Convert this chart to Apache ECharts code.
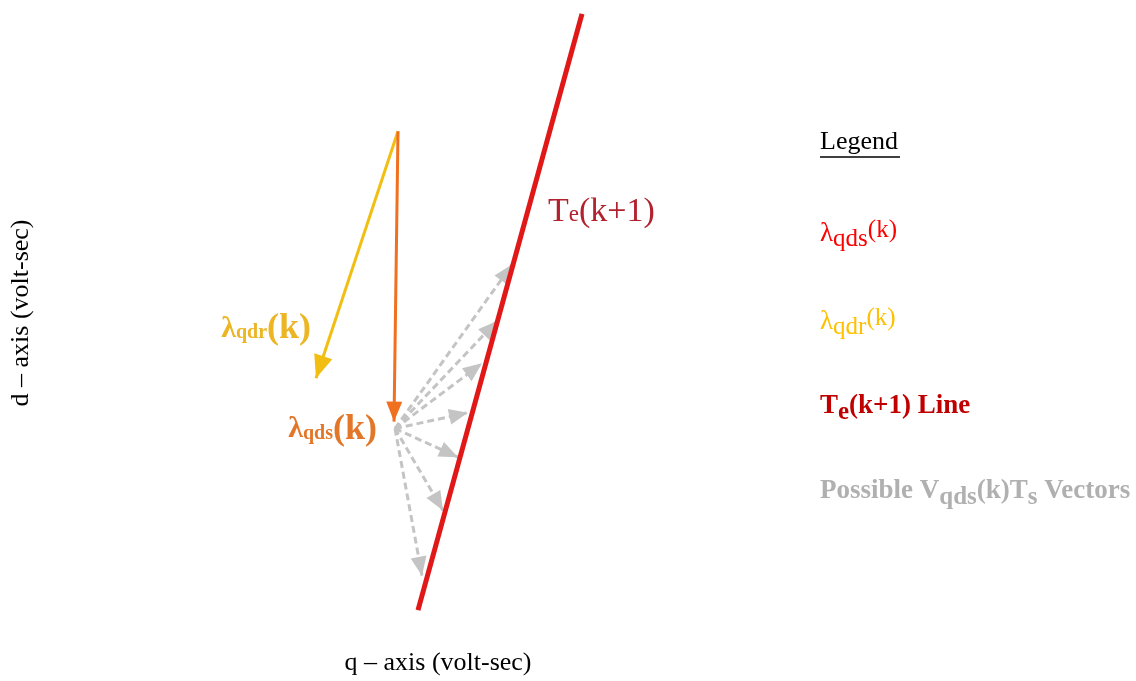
<!DOCTYPE html>
<html>
<head>
<meta charset="utf-8">
<script src="https://cdn.jsdelivr.net/npm/echarts@6/dist/echarts.min.js"></script>
<style>
  html, body { margin: 0; padding: 0; background: #fff; }
  #chart { width: 1136px; height: 681px; }
</style>
</head>
<body>
<div id="chart"></div>
<script>
// points in (q, d) volt-sec units
const teLine = [[35.8, 1.6], [52.2, 62.0]];
const fluxOrigin = [33.8, 50.1];
const rotorFluxTip = [25.6, 25.1];
const statorFluxTip = [33.4, 20.7];
const vectorStart = [33.5, 20.0];
const vectorTips = [
  [45.2, 36.6], [43.7, 30.9], [42.2, 26.6], [40.8, 21.6],
  [39.8, 17.1], [38.3, 11.7], [36.2, 5.1],
];
// where the in-plot labels sit
const labelNames = ['rotor', 'stator', 'torque'];
const labelAnchors = [[25.1, 30.1], [31.7, 19.9], [48.8, 41.9]];

const seriesNames = ['λqds(k)', 'λqdr(k)', 'Te(k+1) Line', 'Possible Vqds(k)Ts Vectors'];
const legendTops = [218, 306, 393, 478];

const serif = 'Liberation Serif, DejaVu Serif, serif';

// square symbol box with the arrow tip in its centre, so the tip lands on the end point
function arrowHead(len, half) {
  const s = len * 2;
  return 'path://M' + (-len) + ',0L' + (-len + 0.01) + ',0L' + (-len) + ',0.01Z' +
    'M' + len + ',0L' + (len - 0.01) + ',0L' + len + ',0.01Z' +
    'M0,' + len + 'L' + half + ',' + s + 'L' + (-half) + ',' + s + 'Z';
}

const chart = echarts.init(document.getElementById('chart'));

const legendText = {
  'λqds(k)': '{l|λ}{s|qds}{k|(k)}',
  'λqdr(k)': '{l|λ}{s|qdr}{k|(k)}',
  'Te(k+1) Line': '{m|T}{s|e}{m|(k+1) Line}',
  'Possible Vqds(k)Ts Vectors': '{m|Possible V}{s|qds}{m|(k)T}{s|s}{m| Vectors}',
};
const legendColors = ['#ff0000', '#ffc000', '#c00000', '#b0b0b0'];
const legendBold = [false, false, true, true];

const legends = seriesNames.map((name, i) => {
  const w = legendBold[i] ? 'bold' : 'normal';
  const c = legendColors[i];
  return {
    data: [name],
    left: 815,
    top: legendTops[i],
    icon: 'none',
    itemWidth: 0,
    itemHeight: 10,
    padding: 0,
    selectedMode: false,
    formatter: (n) => legendText[n],
    textStyle: {
      fontFamily: serif,
      rich: {
        l: { fontSize: 27, color: c, fontWeight: w, fontFamily: serif },
        s: { fontSize: 25, color: c, fontWeight: w, fontFamily: serif, padding: [12, 0, 0, 0] },
        k: { fontSize: 25, color: c, fontWeight: w, fontFamily: serif, padding: [0, 0, 6, 0] },
        m: { fontSize: 27, color: c, fontWeight: w, fontFamily: serif },
      },
    },
  };
});

const plotLabels = {
  rotor: '{l|λ}{s|qdr}{k|(k)}',
  stator: '{l|λ}{s|qds}{k|(k)}',
  torque: '{t|T}{e|e}{t|(k+1)}',
};
const labelStyles = {
  rotor: { position: 'left', color: '#ecb524', weight: 'bold' },
  stator: { position: 'left', color: '#e2772a', weight: 'bold' },
  torque: { position: 'right', color: '#b2222e', weight: 'normal' },
};

const option = {
  animation: false,
  title: {
    text: 'Legend',
    left: 820,
    top: 129,
    padding: 0,
    textStyle: { fontFamily: serif, fontSize: 26, fontWeight: 'normal', color: '#000' },
  },
  graphic: [
    { type: 'line', shape: { x1: 820, y1: 157, x2: 900, y2: 157 }, style: { stroke: '#000', lineWidth: 1.5 } },
  ],
  legend: legends,
  grid: { left: 60, right: 320, top: 0, bottom: 47 },
  xAxis: {
    type: 'value', min: 0, max: 75.6,
    name: 'q – axis (volt-sec)', nameLocation: 'middle', nameGap: 24,
    nameTextStyle: { fontFamily: serif, fontSize: 26, color: '#000' },
    axisLine: { show: false }, axisTick: { show: false }, axisLabel: { show: false }, splitLine: { show: false },
  },
  yAxis: {
    type: 'value', min: 0, max: 63.4,
    name: 'd – axis (volt-sec)', nameLocation: 'middle', nameGap: 26,
    nameTextStyle: { fontFamily: serif, fontSize: 26, color: '#000' },
    axisLine: { show: false }, axisTick: { show: false }, axisLabel: { show: false }, splitLine: { show: false },
  },
  series: [
    {
      name: 'Possible Vqds(k)Ts Vectors',
      type: 'lines',
      coordinateSystem: 'cartesian2d',
      symbol: ['none', arrowHead(19, 8)],
      symbolSize: [0, 38],
      lineStyle: { color: '#c4c4c4', width: 3, type: [7, 4], opacity: 1 },
      itemStyle: { color: '#c4c4c4' },
      data: vectorTips.map((t) => ({ coords: [vectorStart, t] })),
    },
    {
      name: 'Te(k+1) Line',
      type: 'line',
      symbol: 'none',
      lineStyle: { color: '#e01818', width: 5 },
      itemStyle: { color: '#e01818' },
      data: teLine,
    },
    {
      name: 'λqdr(k)',
      type: 'lines',
      coordinateSystem: 'cartesian2d',
      symbol: ['none', arrowHead(23, 9.5)],
      symbolSize: [0, 46],
      lineStyle: { color: '#f2be12', width: 3, opacity: 1 },
      itemStyle: { color: '#f2be12' },
      data: [{ coords: [fluxOrigin, rotorFluxTip] }],
    },
    {
      name: 'λqds(k)',
      type: 'lines',
      coordinateSystem: 'cartesian2d',
      symbol: ['none', arrowHead(20, 8)],
      symbolSize: [0, 40],
      lineStyle: { color: '#f07020', width: 3, opacity: 1 },
      itemStyle: { color: '#f07020' },
      data: [{ coords: [fluxOrigin, statorFluxTip] }],
    },
    {
      name: 'labels',
      type: 'scatter',
      symbolSize: 0,
      silent: true,
      itemStyle: { opacity: 1 },
      label: { show: true, distance: 0, formatter: (p) => plotLabels[p.name] },
      data: labelAnchors.map((p, i) => {
        const st = labelStyles[labelNames[i]];
        const c = st.color;
        const w = st.weight;
        return {
          value: p,
          name: labelNames[i],
          label: {
            position: st.position,
            opacity: 1,
            rich: {
              l: { fontFamily: serif, fontSize: 30, fontWeight: w, color: c },
              s: { fontFamily: serif, fontSize: 20, fontWeight: w, color: c, padding: [8, 0, 0, 0] },
              k: { fontFamily: serif, fontSize: 36, fontWeight: w, color: c },
              t: { fontFamily: serif, fontSize: 34, color: c },
              e: { fontFamily: serif, fontSize: 23, color: c, padding: [6, 0, 0, 0] },
            },
          },
        };
      }),
    },
  ],
};

chart.setOption(option);
window.addEventListener('resize', () => chart.resize());
</script>
</body>
</html>
